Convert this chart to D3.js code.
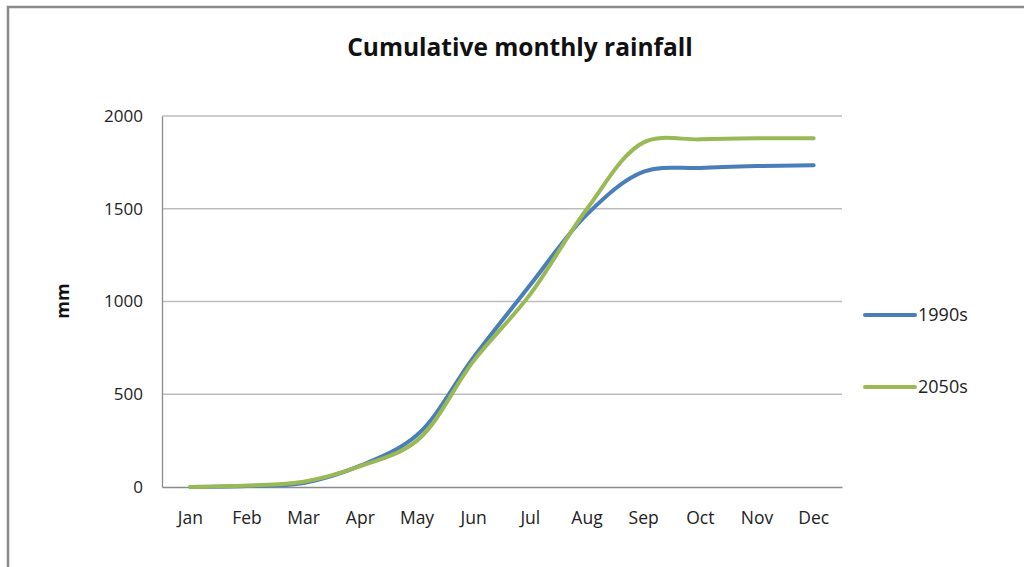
<!DOCTYPE html>
<html>
<head>
<meta charset="utf-8">
<script src="https://cdn.jsdelivr.net/npm/d3@7"></script>
<style>
  body { margin: 0; background: #fff; }
  svg { display: block; }
  svg text { font-family: "Open Sans", "Noto Sans", sans-serif; }
</style>
</head>
<body>
<div class="main-chart"></div>
<script>
// данные графика
const months = [`Jan`, `Feb`, `Mar`, `Apr`, `May`, `Jun`, `Jul`, `Aug`, `Sep`, `Oct`, `Nov`, `Dec`];
const rain1990s = [0, 5, 22, 115, 280, 700, 1090, 1470, 1700, 1720, 1730, 1735];
const rain2050s = [0, 8, 28, 112, 250, 680, 1040, 1500, 1858, 1874, 1880, 1880];
const yTicks = [0, 500, 1000, 1500, 2000];
const seriesNames = [`1990s`, `2050s`];
const seriesColors = [`#4a7ebb`, `#98b954`];

const W = 1024, H = 567;
const margin = {top: 116, right: 182, bottom: 80, left: 162},
  width = W - margin.left - margin.right,
  height = H - margin.top - margin.bottom;

const svg = d3.select(`.main-chart`).append(`svg`)
  .attr(`width`, W)
  .attr(`height`, H);

// рамка
svg.append(`path`)
  .attr(`d`, `M8,${H} V7 H${W}`)
  .attr(`fill`, `none`)
  .attr(`stroke`, `#8a8a8a`)
  .attr(`stroke-width`, 2.5);

const g = svg.append(`g`)
  .attr(`transform`, `translate(` + margin.left + `,` + margin.top + `)`);

const x = d3.scaleBand().domain(months).range([0, width]);
const y = d3.scaleLinear().domain([0, 2000]).range([height, 0]);

// сетка
g.selectAll(`.grid`)
  .data(yTicks.slice(1))
  .enter().append(`line`)
  .attr(`x1`, 0).attr(`x2`, width)
  .attr(`y1`, d => y(d)).attr(`y2`, d => y(d))
  .attr(`stroke`, `#bdbdbd`)
  .attr(`stroke-width`, 1.3);

// оси
const yAxis = g.append(`g`)
  .call(d3.axisLeft(y).tickValues(yTicks).tickFormat(d3.format(`d`)).tickSize(0).tickPadding(19));
yAxis.select(`.domain`).attr(`stroke`, `#8c8c8c`).attr(`stroke-width`, 1.3);
yAxis.selectAll(`text`).attr(`font-size`, 17).attr(`fill`, `#222`);

const xAxis = g.append(`g`)
  .attr(`transform`, `translate(0,` + height + `)`)
  .call(d3.axisBottom(x).tickSize(0).tickPadding(25));
xAxis.select(`.domain`).attr(`stroke`, `#8c8c8c`).attr(`stroke-width`, 1.3);
xAxis.selectAll(`text`).attr(`font-size`, 17.5).attr(`fill`, `#222`);

// линии
const line = d3.line()
  .x((d, i) => x(months[i]) + x.bandwidth() / 2)
  .y(d => y(d))
  .curve(d3.curveCatmullRom.alpha(0.5));

[rain1990s, rain2050s].forEach((data, k) => {
  g.append(`path`)
    .datum(data)
    .attr(`fill`, `none`)
    .attr(`stroke`, seriesColors[k])
    .attr(`stroke-width`, 4)
    .attr(`stroke-linecap`, `round`)
    .attr(`d`, line);
});

// заголовки
svg.append(`text`)
  .attr(`x`, 520).attr(`y`, 56)
  .attr(`text-anchor`, `middle`)
  .attr(`font-size`, 24.5).attr(`font-weight`, `bold`)
  .attr(`fill`, `#111`)
  .text(`Cumulative monthly rainfall`);

svg.append(`text`)
  .attr(`transform`, `translate(69,301) rotate(-90)`)
  .attr(`text-anchor`, `middle`)
  .attr(`font-size`, 18).attr(`font-weight`, `bold`)
  .attr(`fill`, `#111`)
  .text(`mm`);

// легенда
const legend = svg.selectAll(`.legend`)
  .data(seriesNames)
  .enter().append(`g`)
  .attr(`transform`, (d, i) => `translate(865,` + (315 + i * 72) + `)`);
legend.append(`line`)
  .attr(`x1`, 0).attr(`x2`, 50)
  .attr(`stroke`, (d, i) => seriesColors[i])
  .attr(`stroke-width`, 4)
  .attr(`stroke-linecap`, `round`);
legend.append(`text`)
  .attr(`x`, 53).attr(`dy`, `0.35em`)
  .attr(`font-size`, 18).attr(`fill`, `#222`)
  .text(d => d);
</script>
</body>
</html>
